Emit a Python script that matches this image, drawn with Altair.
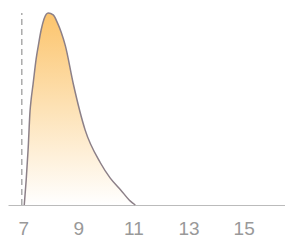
import altair as alt

xs = [7.04, 7.11, 7.18, 7.25, 7.29, 7.36, 7.47, 7.55, 7.65, 7.76, 7.91, 8.09, 8.24, 8.38, 8.53, 8.82, 9.25, 9.80, 10.16, 10.53, 10.89, 11.07]
ys = [0.0, 0.13, 0.29, 0.49, 0.55, 0.63, 0.76, 0.83, 0.91, 0.97, 1.0, 0.99, 0.95, 0.90, 0.83, 0.63, 0.39, 0.22, 0.14, 0.08, 0.02, 0.0]
tick_values = [7, 9, 11, 13, 15]
marker_x = [6.95]

curve = alt.Data(values=[{"x": a, "y": b} for a, b in zip(xs, ys)])
marker = alt.Data(values=[{"x": m, "y0": 0, "y1": 1} for m in marker_x])

x_scale = alt.Scale(domain=[6.45, 16.5], nice=False)
y_scale = alt.Scale(domain=[0, 1.026], nice=False)
x_axis = alt.Axis(values=tick_values, title=None, ticks=False, grid=False,
                  domainColor="#bbbbbb", labelColor="#999999", labelFontSize=19,
                  labelPadding=14)

grad = {
    "gradient": "linear",
    "stops": [
        {"color": "#fcc46c", "offset": 0},
        {"color": "#fde2b6", "offset": 0.5},
        {"color": "#ffffff", "offset": 1},
    ],
    "x1": 0, "x2": 0, "y1": 0, "y2": 1,
}

area = alt.Chart(curve).mark_area(fill=grad, interpolate="monotone").encode(
    x=alt.X("x:Q", scale=x_scale, axis=x_axis),
    y=alt.Y("y:Q", scale=y_scale, axis=None),
)

line = alt.Chart(curve).mark_line(color="#8c8088", strokeWidth=1.5, interpolate="monotone").encode(
    x=alt.X("x:Q", scale=x_scale, axis=x_axis),
    y=alt.Y("y:Q", scale=y_scale, axis=None),
)

rule = alt.Chart(marker).mark_rule(color="#aaaaaa", strokeWidth=1.5, strokeDash=[6, 4]).encode(
    x=alt.X("x:Q", scale=x_scale, axis=x_axis),
    y=alt.Y("y0:Q", scale=y_scale, axis=None),
    y2="y1:Q",
)

chart = alt.layer(area, line, rule).properties(
    width=277, height=197, padding=0
).configure_view(strokeWidth=0)

chart.save("out.html", embed_options={"renderer": "svg", "actions": False})
